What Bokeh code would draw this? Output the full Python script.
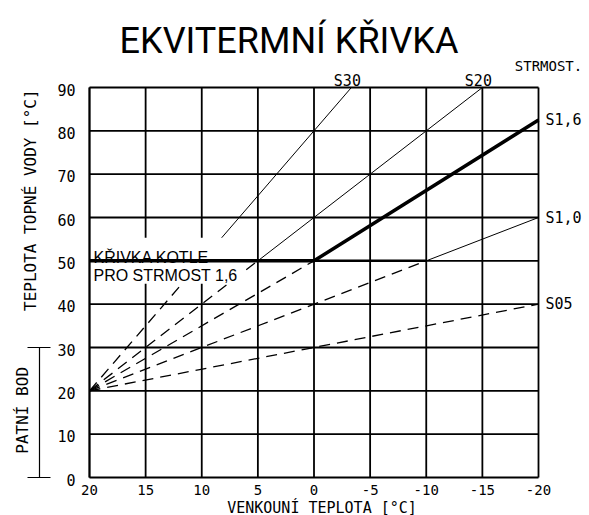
from bokeh.plotting import figure
from bokeh.models import Range1d
from bokeh.core.properties import value
from bokeh.embed import file_html
from bokeh.resources import INLINE

# ---------------- data ----------------
x_ticks = [20, 15, 10, 5, 0, -5, -10, -15, -20]
x_tick_labels = ["20", "15", "10", "5", "0", "-5", "-10", "-15", "-20"]
y_ticks = [0, 10, 20, 30, 40, 50, 60, 70, 80, 90]
y_tick_labels = ["0", "10", "20", "30", "40", "50", "60", "70", "80", "90"]

# dashed parts of the heating curves (from the base point 20 / 20)
s30_dash_x = [20, 10];   s30_dash_y = [20, 50]
s20_dash_x = [20, 5];    s20_dash_y = [20, 50]
s15_dash_x = [20, 0];    s15_dash_y = [20, 50]
s10_dash_x = [20, -10];  s10_dash_y = [20, 50]
s05_dash_x = [20, -20];  s05_dash_y = [20, 40]

# solid parts of the curves
s30_x = [10, -3.33];     s30_y = [50, 90]
s20_x = [5, -15];        s20_y = [50, 90]
s10_x = [-10, -20];      s10_y = [50, 60]

# boiler curve for slope 1.6 (thick) and the 50 °C limit
kotel_x = [20, 0, -20];  kotel_y = [50, 50, 82.5]
limit_x = [0, -10];      limit_y = [50, 50]

curve_labels = ["S30", "S20"]
right_labels = ["S1,6", "S1,0", "S05"]
right_label_y = [82.5, 60, 40]

# ---------------- figure ----------------
W, H = 589, 515
# frame spans the whole canvas; data 20..-20 / 0..90 maps to px 89..538 / 477..87
px_x = (538 - 89) / 40.0
px_y = (477 - 87) / 90.0
x0 = 20 + 89 / px_x
x1 = 20 - (W - 89) / px_x
y1 = 90 + 87 / px_y
y0 = -(H - 477) / px_y

p = figure(width=W, height=H, output_backend="svg", toolbar_location=None,
           x_range=Range1d(x0, x1), y_range=Range1d(y0, y1),
           min_border=0, min_border_left=0, min_border_right=0,
           min_border_top=0, min_border_bottom=0)
p.axis.visible = False
p.grid.visible = False
p.outline_line_color = None
p.background_fill_color = "white"
p.border_fill_color = "white"

mono = value("DejaVu Sans Mono")
sans = value("Liberation Sans")

def dx(px):  # pixel offset -> data units (x axis is reversed)
    return -px / px_x

def dy(px):
    return px / px_y

# grid (also forms the frame)
xmin, xmax = x_ticks[0], x_ticks[-1]
ymin, ymax = y_ticks[0], y_ticks[-1]
p.segment(x0=x_ticks, y0=[ymin] * len(x_ticks), x1=x_ticks, y1=[ymax] * len(x_ticks),
          line_color="black", line_width=1.8)
p.segment(x0=[xmin] * len(y_ticks), y0=y_ticks, x1=[xmax] * len(y_ticks), y1=y_ticks,
          line_color="black", line_width=1.8)

# tick labels
p.text(x=x_ticks, y=[ymin + dy(-12)] * len(x_ticks), text=x_tick_labels,
       text_font=mono, text_font_size="14px", text_align="center",
       text_baseline="middle", text_color="black")
p.text(x=[xmin + dx(-14)] * len(y_ticks), y=[t + dy(-2) for t in y_ticks],
       text=y_tick_labels, text_font=mono, text_font_size="15px",
       text_align="right", text_baseline="middle", text_color="black")

# curves
dash = "11 7"
for xs, ys in ((s30_dash_x, s30_dash_y), (s20_dash_x, s20_dash_y),
               (s15_dash_x, s15_dash_y), (s10_dash_x, s10_dash_y),
               (s05_dash_x, s05_dash_y)):
    p.line(xs, ys, line_color="black", line_width=1.3, line_dash=dash)

for xs, ys in ((s30_x, s30_y), (s20_x, s20_y), (s10_x, s10_y)):
    p.line(xs, ys, line_color="black", line_width=1)

# white box behind the boiler-curve note (masks grid and curves)
p.quad(left=[xmin + dx(1.5)], right=[xmin + dx(154)],
       bottom=[50 + dy(-23)], top=[50 + dy(23)],
       fill_color="white", line_color=None)
p.segment(x0=[xmin], y0=[ymin], x1=[xmin], y1=[ymax],
          line_color="black", line_width=1.8)

p.line(limit_x, limit_y, line_color="black", line_width=2.5)
p.line(kotel_x, kotel_y, line_color="black", line_width=3.5)

# curve labels
p.text(x=[s30_x[-1] + dx(-4), s20_x[-1] + dx(-4)], y=[ymax + dy(7)] * 2,
       text=curve_labels, text_font=mono, text_font_size="15px",
       text_align="center", text_baseline="middle", text_color="black")
p.text(x=[xmax + dx(7)] * 3, y=right_label_y, text=right_labels,
       text_font=mono, text_font_size="15px", text_align="left",
       text_baseline="middle", text_color="black")
p.text(x=[xmax + dx(10)], y=[ymax + dy(22)], text=["STRMOST."],
       text_font=mono, text_font_size="14px", text_align="center",
       text_baseline="middle", text_color="black")

# boiler curve notes
p.text(x=[xmin + dx(4)] * 2, y=[50 + dy(3), 50 + dy(-15)],
       text=["KŘIVKA KOTLE", "PRO STRMOST 1,6"], text_font=sans,
       text_font_size="16px", text_align="left", text_baseline="alphabetic",
       text_color="black")

# axis titles
p.text(x=[xmin + dx(-59)], y=[64], text=["TEPLOTA TOPNÉ VODY [°C]"],
       text_font=mono, text_font_size="16px", angle=90, angle_units="deg",
       text_align="center", text_baseline="middle", text_color="black")
p.text(x=[xmin + dx(-67)], y=[15.5], text=["PATNÍ BOD"],
       text_font=mono, text_font_size="16px", angle=90, angle_units="deg",
       text_align="center", text_baseline="middle", text_color="black")
p.text(x=[0 + dx(8)], y=[ymin + dy(-30)], text=["VENKOUNÍ TEPLOTA [°C]"],
       text_font=mono, text_font_size="15px", text_align="center",
       text_baseline="middle", text_color="black")

# bracket showing base point range
bx = xmin + dx(-50)
p.segment(x0=[bx, bx + dx(-12), bx + dx(-12)], y0=[0, 0, 30],
          x1=[bx, bx + dx(11), bx + dx(11)], y1=[30, 0, 30],
          line_color="black", line_width=1.2)

# title
p.text(x=[0 + dx(-25)], y=[ymax + dy(47)], text=["EKVITERMNÍ KŘIVKA"],
       text_font=value("Roboto"), text_font_size="36px",
       text_align="center", text_baseline="middle", text_color="black")

open("out.html", "w").write(file_html(p, INLINE))
